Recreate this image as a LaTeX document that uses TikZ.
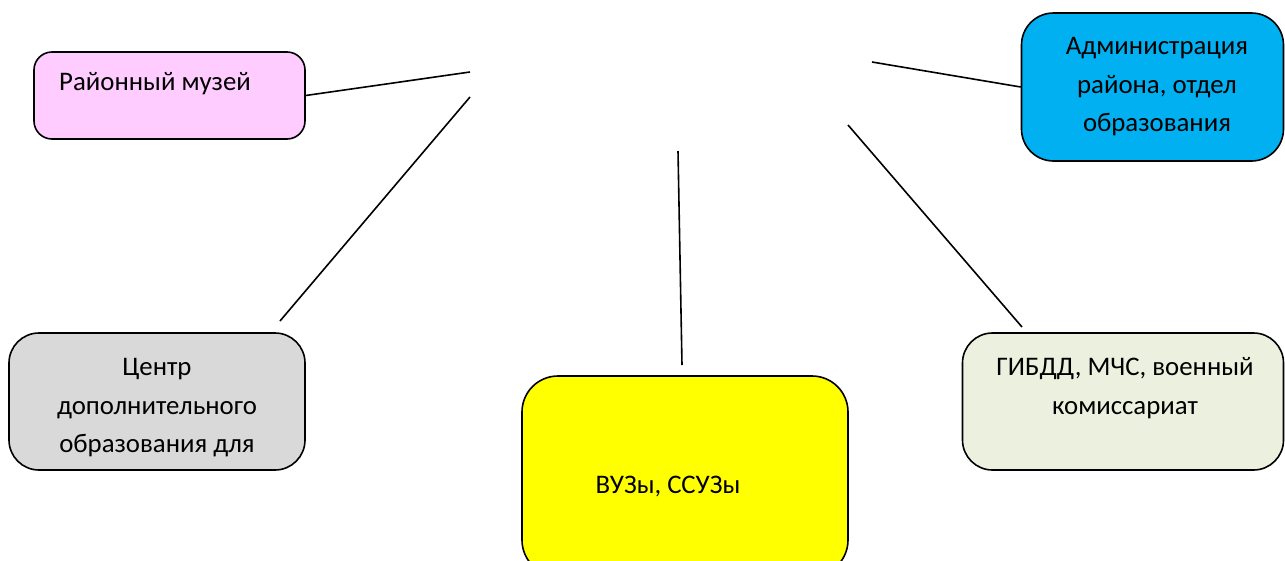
\documentclass[tikz,border=0pt]{standalone}
\usepackage{fontspec}
\setmainfont{Carlito}
\begin{document}
\begin{tikzpicture}[x=1pt,y=-1pt,
  box/.style={draw=black,line width=1.6pt,rectangle,inner sep=0pt},
  lbl/.style={font=\fontsize{26.8}{38.5}\selectfont,align=center,inner sep=0pt,text=black},
  link/.style={draw=black,line width=1.6pt}]
\useasboundingbox (0,0) rectangle (1285,560);
% boxes
\node[box,fill={rgb,255:red,255;green,204;blue,255},minimum width=271pt,minimum height=87pt,rounded corners=18pt] (museum) at (169.5,95.5) {};
\node[box,fill={rgb,255:red,0;green,176;blue,240},minimum width=262pt,minimum height=148pt,rounded corners=32pt] (admin) at (1152.5,87) {};
\node[box,fill={rgb,255:red,217;green,217;blue,217},minimum width=296pt,minimum height=137pt,rounded corners=30pt] (center) at (157,401.5) {};
\node[box,fill={rgb,255:red,235;green,241;blue,222},minimum width=321pt,minimum height=137pt,rounded corners=30pt] (gibdd) at (1123,401.5) {};
\node[box,fill={rgb,255:red,255;green,255;blue,0},minimum width=326pt,minimum height=200pt,rounded corners=36pt] (vuz) at (685,476) {};
% labels
\node[lbl] (tmuseum) at (155,84) {Районный музей};
\node[lbl] (tadmin) at (1157,87) {Администрация\\района, отдел\\образования};
\node[lbl] (tcenter) at (157,408) {Центр\\дополнительного\\образования для};
\node[lbl] (tgibdd) at (1125,388) {ГИБДД, МЧС, военный\\комиссариат};
\node[lbl] (tvuz) at (668,487) {ВУЗы, ССУЗы};
% free ends
\coordinate (m1) at (470,72);
\coordinate (a1) at (872,62);
\coordinate (c1) at (470,97);
\coordinate (c2) at (280,321);
\coordinate (v1) at (678,151);
\coordinate (v2) at (682,365);
\coordinate (g1) at (848,125);
\coordinate (g2) at (1022,327);
% connectors
\draw[link] (museum.east) -- (m1);
\draw[link] (a1) -- (admin.west);
\draw[link] (c1) -- (c2);
\draw[link] (v1) -- (v2);
\draw[link] (g1) -- (g2);
\end{tikzpicture}
\end{document}
